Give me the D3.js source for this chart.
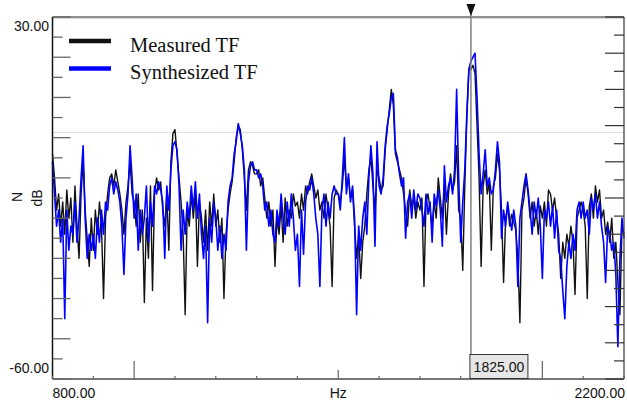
<!DOCTYPE html>
<html>
<head>
<meta charset="utf-8">
<script src="https://cdn.jsdelivr.net/npm/d3@7"></script>
<style>
  body { margin: 0; background: #fff; }
  svg { display: block; }
  .tick-label { font-family: "Liberation Sans", Arial, sans-serif; font-size: 14px; fill: #111; }
  .legend-label { font-family: "Liberation Serif", "Times New Roman", serif; font-size: 20.5px; fill: #111; }
</style>
</head>
<body>
<div id="vis"></div>
<script>
// frequency grid (Hz), 5 Hz steps
const freqs = d3.range(800, 2201, 5);

// Measured TF (dB)
const measured = [
  -4,-10,-18,-14,-22,-16,-24,-13,-20,-15,-26,-12,-22,-30,-14,-6,-18,-25,-32,-20,
  -28,-18,-24,-16,-22,-40,-20,-14,-10,-9,-12,-8,-11,-14,-18,-24,-16,-12,-6,-14,
  -16,-22,-14,-26,-18,-41,-20,-30,-12,-38,-14,-10,-13,-11,-18,-22,-14,-28,-6,1,
  2,-4,-10,-16,-24,-44,-18,-22,-14,-20,-13,-32,-16,-20,-26,-18,-28,-16,-22,-14,
  -22,-18,-26,-20,-40,-24,-18,-14,-11,-6,0,3,2,-3,-10,-18,-8,-6,-7,-9,
  -9,-8,-12,-10,-15,-20,-16,-22,-18,-32,-20,-24,-17,-26,-15,-22,-18,-20,-14,-17,
  -16,-20,-14,-18,-12,-14,-11,-9,-12,-15,-13,-18,-16,-20,-14,-18,-22,-37,-15,-13,
  -14,-16,-12,-5,-12,-10,-15,-13,-22,-30,-24,-35,-26,-22,-14,-8,-5,-12,-18,-8,
  -10,-13,-12,-3,2,7,12,8,-4,-6,-8,-10,-14,-18,-22,-13,-17,-15,-20,-16,
  -18,-15,-37,-16,-14,-18,-22,-16,-20,-10,-15,-20,-12,-24,-14,-9,-13,-11,-2,-18,
  -20,-33,-12,5,17,17,18,16,3,-10,-32,-12,-8,-14,-11,-28,-12,-10,-4,-8,
  -18,-36,-20,-17,-22,-19,-21,-23,-30,-46,-18,-15,-10,-14,-20,-16,-22,-18,-24,-17,
  -20,-16,-22,-13,-14,-18,-15,-20,-24,-35,-26,-30,-24,-27,-22,-26,-39,-20,-18,-16,
  -18,-22,-40,-17,-14,-20,-12,-16,-13,-20,-18,-24,-21,-26,-20,-30,-26,-36,-44,-22,-24
];

// Synthesized TF (dB)
const synthesized = [
  -6,-14,-22,-18,-26,-20,-45,-18,-28,-22,-24,-16,-26,-20,-10,-2,-20,-30,-24,-28,
  -24,-30,-20,-26,-18,-24,-16,-18,-12,-10,-14,-11,-13,-16,-22,-34,-20,-14,-2,-10,
  -20,-14,-28,-18,-24,-20,-12,-26,-16,-22,-12,-14,-11,-13,-16,-30,-12,-18,-8,-2,
  -1,-3,-12,-28,-18,-24,-16,-20,-12,-18,-11,-20,-14,-24,-30,-22,-46,-20,-26,-16,
  -20,-28,-22,-30,-24,-28,-16,-12,-10,-4,-1,3.5,1,-2,-8,-28,-11,-7,-6,-8,
  -8,-10,-9,-12,-18,-16,-22,-18,-24,-26,-18,-22,-14,-20,-24,-16,-22,-14,-20,-28,
  -24,-37,-18,-29,-16,-12,-13,-10,-14,-20,-24,-37,-18,-14,-22,-16,-20,-14,-12,-14,
  -14,-18,-10,0,-14,-9,-16,-12,-20,-44,-22,-28,-20,-16,-24,-10,-2,-9,-27,-1,
  -12,-14,-10,-2,3,6,10,11,-3,-5,-9,-12,-10,-25,-16,-14,-20,-13,-18,-14,
  -15,-18,-22,-14,-19,-16,-26,-14,-17,-13,-18,-27,-7,-16,-12,-10,-14,-8,12,-10,
  -26,-16,-8,6,17,19,20,21,10,-4,-14,-9,-3,-12,-10,-14,-13,-8,-1,-6,
  -25,-18,-22,-16,-20,-23,-18,-22,-37,-20,-16,-12,-9,-13,-18,-24,-16,-20,-15,-22,
  -35,-18,-20,-16,-22,-17,-25,-18,-28,-30,-38,-45,-32,-26,-30,-24,-28,-18,-16,-20,
  -16,-20,-18,-24,-15,-18,-14,-20,-16,-22,-26,-36,-22,-24,-28,-26,-34,-52,-30,-20,-25
];

const cursorHz = 1825;
const refLevel = 1.3;
const seriesNames = ["Measured TF", "Synthesized TF"];
const seriesColors = ["#111111", "#0000ff"];

const width = 627, height = 405;
const plotLeft = 52.5, plotRight = 624, plotTop = 17, plotBottom = 379;

const svg = d3.select("#vis").append("svg")
  .attr("width", width)
  .attr("height", height);

const x = d3.scaleLinear().domain([800, 2200]).range([plotLeft, plotRight]);
const y = d3.scaleLinear().domain([-60, 30]).range([plotBottom, plotTop]);
const yRight = d3.scaleLinear().domain([0, 20]).range([plotBottom, plotTop]);

// reference grid line
svg.append("line")
  .attr("x1", plotLeft).attr("x2", plotRight)
  .attr("y1", y(refLevel)).attr("y2", y(refLevel))
  .attr("stroke", "#dddddd").attr("stroke-width", 1);

// data lines
const line = d3.line()
  .x((d, i) => x(freqs[i]))
  .y(d => y(d));

svg.append("path")
  .datum(measured)
  .attr("fill", "none")
  .attr("stroke", seriesColors[0])
  .attr("stroke-width", 1.4)
  .attr("stroke-linejoin", "round")
  .attr("d", line);

svg.append("path")
  .datum(synthesized)
  .attr("fill", "none")
  .attr("stroke", seriesColors[1])
  .attr("stroke-width", 1.6)
  .attr("stroke-linejoin", "round")
  .attr("d", line);

// frame
svg.append("line").attr("x1", plotLeft).attr("x2", plotRight).attr("y1", plotTop).attr("y2", plotTop)
  .attr("stroke", "#222").attr("stroke-width", 1.2);
svg.append("line").attr("x1", plotLeft).attr("x2", plotRight).attr("y1", plotTop + 1.5).attr("y2", plotTop + 1.5)
  .attr("stroke", "#d8d8d8").attr("stroke-width", 1);
svg.append("line").attr("x1", plotLeft).attr("x2", plotLeft).attr("y1", plotTop).attr("y2", plotBottom)
  .attr("stroke", "#111").attr("stroke-width", 1.5);
svg.append("line").attr("x1", plotRight).attr("x2", plotRight).attr("y1", plotTop).attr("y2", plotBottom)
  .attr("stroke", "#444").attr("stroke-width", 1.3);
svg.append("line").attr("x1", plotLeft).attr("x2", plotRight).attr("y1", plotBottom).attr("y2", plotBottom)
  .attr("stroke", "#777").attr("stroke-width", 2);

// left ticks (5 dB)
svg.append("g").selectAll("line")
  .data(d3.range(-60, 31, 5))
  .join("line")
  .attr("x1", plotLeft)
  .attr("x2", d => plotLeft + (d % 10 === 0 ? 18 : 10))
  .attr("y1", d => y(d)).attr("y2", d => y(d))
  .attr("stroke", "#666").attr("stroke-width", 1.3);

// right ticks (secondary axis, 20 divisions)
svg.append("g").selectAll("line")
  .data(d3.range(0, 21))
  .join("line")
  .attr("x1", plotRight)
  .attr("x2", d => plotRight - (d % 2 === 0 ? 19 : 10))
  .attr("y1", d => yRight(d)).attr("y2", d => yRight(d))
  .attr("stroke", "#333").attr("stroke-width", 1.2);

// bottom ticks (100 Hz)
svg.append("g").selectAll("line")
  .data(d3.range(800, 2201, 100))
  .join("line")
  .attr("x1", d => x(d)).attr("x2", d => x(d))
  .attr("y1", plotBottom)
  .attr("y2", d => plotBottom - (d % 1000 === 0 ? 18 : d % 500 === 0 ? 9 : 3))
  .attr("stroke", "#666").attr("stroke-width", 1.2);

// axis labels
svg.append("text").attr("class", "tick-label")
  .attr("x", 49).attr("y", plotTop + 14).attr("text-anchor", "end").text("30.00");
svg.append("text").attr("class", "tick-label")
  .attr("x", 49).attr("y", plotBottom - 6).attr("text-anchor", "end").text("-60.00");
svg.append("text").attr("class", "tick-label")
  .attr("x", plotLeft).attr("y", 398).attr("text-anchor", "start").text("800.00");
svg.append("text").attr("class", "tick-label")
  .attr("x", (plotLeft + plotRight) / 2).attr("y", 398).attr("text-anchor", "middle").text("Hz");
svg.append("text").attr("class", "tick-label")
  .attr("x", plotRight + 1).attr("y", 398).attr("text-anchor", "end").text("2200.00");
svg.append("text").attr("class", "tick-label")
  .attr("transform", "translate(22,197) rotate(-90)")
  .attr("text-anchor", "middle").text("N");
svg.append("text").attr("class", "tick-label")
  .attr("transform", "translate(42,198) rotate(-90)")
  .attr("text-anchor", "middle").text("dB");

// cursor
const cx = x(cursorHz);
svg.append("line")
  .attr("x1", cx).attr("x2", cx).attr("y1", 6).attr("y2", plotBottom)
  .attr("stroke", "#808080").attr("stroke-width", 1.5);
svg.append("path")
  .attr("d", `M${cx - 4.5},4 L${cx + 4.5},4 L${cx},16 Z`)
  .attr("fill", "#111");
svg.append("rect")
  .attr("x", cx - 1).attr("y", 354.5)
  .attr("width", 58).attr("height", 24)
  .attr("fill", "#e6e6e6").attr("stroke", "#333").attr("stroke-width", 1);
svg.append("text").attr("class", "tick-label")
  .attr("x", cx + 28).attr("y", 372).attr("text-anchor", "middle")
  .text(cursorHz.toFixed(2));

// legend
seriesNames.forEach((name, i) => {
  const ly = 41 + i * 27.5;
  svg.append("line")
    .attr("x1", 69).attr("x2", 111)
    .attr("y1", ly).attr("y2", ly)
    .attr("stroke", seriesColors[i]).attr("stroke-width", 4.5);
  svg.append("text").attr("class", "legend-label")
    .attr("x", 130).attr("y", ly + 10.5)
    .text(name);
});
</script>
</body>
</html>
